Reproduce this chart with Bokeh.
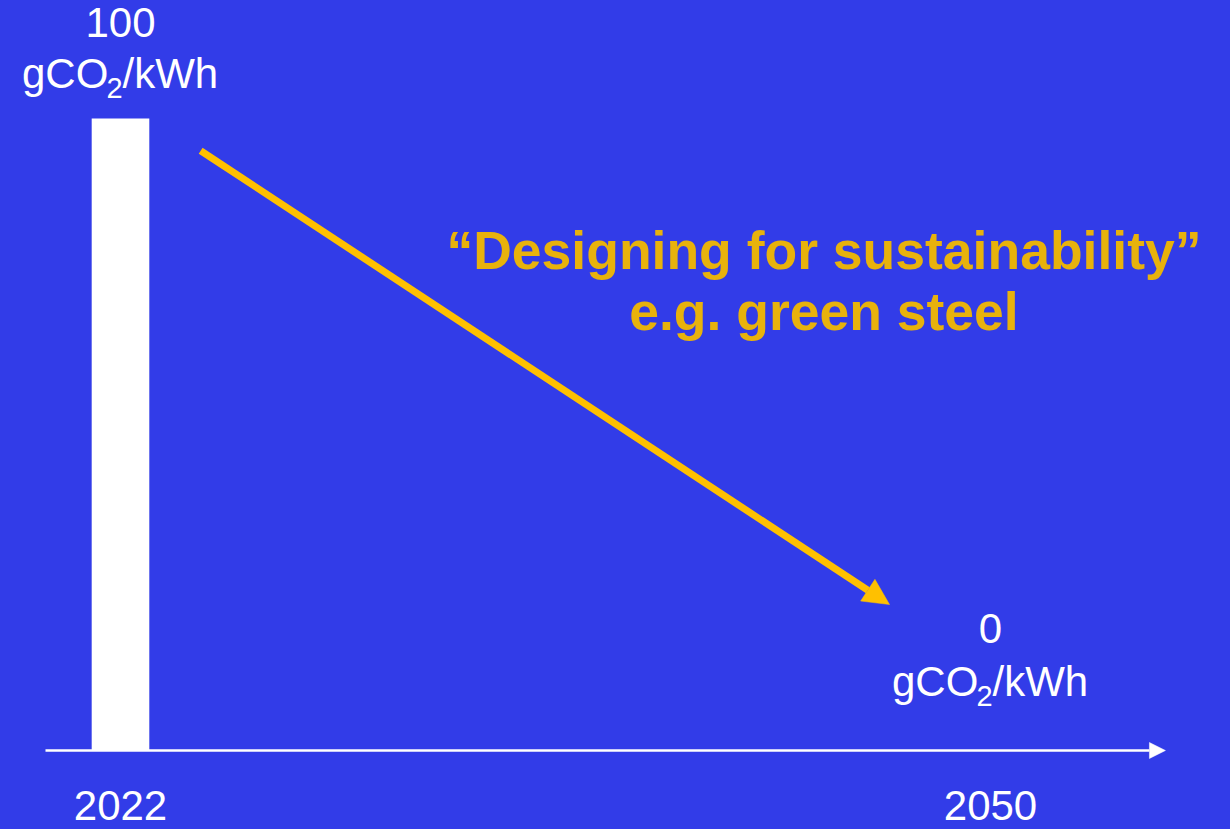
from bokeh.plotting import figure
from bokeh.models import Range1d, Arrow, NormalHead
from bokeh.core.properties import value
from bokeh.embed import file_html
from bokeh.resources import INLINE

# ---- data ----
years = [2022, 2050]
intensity = [100, 0]            # gCO2/kWh
year_labels = ["2022", "2050"]
value_labels = ["100", "0"]
unit_parts = ["gCO", "2", "/kWh"]
title_lines = ["\u201cDesigning for sustainability\u201d", "e.g. green steel"]
arrow_from = (2024.58, 94.9)     # annotation arrow start (year, value)
arrow_to = (2046.75, 23.1)       # annotation arrow end (year, value)
title_pos = (2044.64, 75.6)      # annotation text anchor (year, value)

BG = "#323CE8"
YELLOW_TXT = "#E8B20C"
YELLOW_ARR = "#FFC000"
FONT = "Liberation Sans"

p = figure(width=1230, height=829, output_backend="svg", toolbar_location=None,
           x_range=Range1d(2018.138, 2057.724), y_range=Range1d(-12.5, 118.67),
           min_border=0, background_fill_color=BG, border_fill_color=BG,
           outline_line_color=None)
p.axis.visible = False
p.grid.visible = False

# bar for 2022
p.vbar(x=[years[0]], top=[intensity[0]], bottom=0, width=1.854,
       fill_color="white", line_color=None)

# time axis with arrow
p.add_layout(Arrow(x_start=2019.586, y_start=0, x_end=2055.63, y_end=0,
                   line_color="white", line_width=2.5,
                   end=NormalHead(size=16, fill_color="white", line_color="white", line_width=0.5)))

# yellow trend arrow
p.add_layout(Arrow(x_start=arrow_from[0], y_start=arrow_from[1],
                   x_end=arrow_to[0], y_end=arrow_to[1],
                   line_color=YELLOW_ARR, line_width=7,
                   end=NormalHead(size=26, fill_color=YELLOW_ARR, line_color=YELLOW_ARR, line_width=0.5)))

# year labels under axis
p.text(x=years, y=[0, 0], text=year_labels, y_offset=55,
       text_align="center", text_baseline="alphabetic",
       text_color="white", text_font=value(FONT), text_font_size="42px")

# value labels with units
value_offsets = [-96, -122]
unit_offsets = [-45, -69]
for yr, val, lab, vo, uo in zip(years, intensity, value_labels, value_offsets, unit_offsets):
    p.text(x=[yr], y=[val], text=[lab], y_offset=vo,
           text_align="center", text_baseline="alphabetic",
           text_color="white", text_font=value(FONT), text_font_size="42px")
    p.text(x=[yr], y=[val], text=[unit_parts[0]], x_offset=-98.5, y_offset=uo,
           text_align="left", text_baseline="alphabetic",
           text_color="white", text_font=value(FONT), text_font_size="42px")
    p.text(x=[yr], y=[val], text=[unit_parts[1]], x_offset=-14, y_offset=uo + 15,
           text_align="left", text_baseline="alphabetic",
           text_color="white", text_font=value(FONT), text_font_size="29px")
    p.text(x=[yr], y=[val], text=[unit_parts[2]], x_offset=2, y_offset=uo,
           text_align="left", text_baseline="alphabetic",
           text_color="white", text_font=value(FONT), text_font_size="42px")

# annotation text
p.text(x=[title_pos[0]], y=[title_pos[1]], text=[title_lines[0]], y_offset=-22,
       text_align="center", text_baseline="alphabetic", text_font_style="bold",
       text_color=YELLOW_TXT, text_font=value(FONT), text_font_size="53.5px")
p.text(x=[title_pos[0]], y=[title_pos[1]], text=[title_lines[1]], y_offset=39,
       text_align="center", text_baseline="alphabetic", text_font_style="bold",
       text_color=YELLOW_TXT, text_font=value(FONT), text_font_size="53.5px")

html = file_html(p, INLINE)
html = html.replace("<body>", "<body style=\"margin:0;background:%s\">" % BG)
open("out.html", "w").write(html)
